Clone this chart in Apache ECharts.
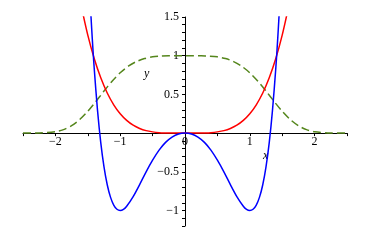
<!DOCTYPE html>
<html><head><meta charset="utf-8">
<script src="https://cdn.jsdelivr.net/npm/echarts@6/dist/echarts.min.js"></script>
<style>html,body{margin:0;padding:0;background:#fff}#c{width:373px;height:244px}</style>
</head><body><div id="c"></div>
<script>
// Green dashed curve
const greenX = [-2.5,-2.25,-2,-1.875,-1.75,-1.625,-1.5,-1.375,-1.25,-1.125,-1,-0.875,-0.75,-0.625,-0.5,-0.375,-0.25,-0.125,0,0.125,0.25,0.375,0.5,0.625,0.75,0.875,1,1.125,1.25,1.375,1.5,1.625,1.75,1.875,2,2.25,2.5];
const greenY = [0,0.002,0.018,0.045,0.096,0.175,0.282,0.409,0.543,0.670,0.779,0.864,0.924,0.963,0.985,0.995,0.999,1,1,1,0.999,0.995,0.985,0.963,0.924,0.864,0.779,0.670,0.543,0.409,0.282,0.175,0.096,0.045,0.018,0.002,0];
// Red curve
const redX = [-1.6,-1.5,-1.4,-1.3,-1.2,-1.1,-1,-0.9,-0.8,-0.7,-0.6,-0.5,-0.4,-0.3,-0.2,-0.1,0,0.1,0.2,0.3,0.4,0.5,0.6,0.7,0.8,0.9,1,1.1,1.2,1.3,1.4,1.5,1.6];
const redY = [1.638,1.266,0.960,0.714,0.518,0.366,0.25,0.164,0.102,0.060,0.032,0.016,0.006,0.002,0,0,0,0,0,0.002,0.006,0.016,0.032,0.060,0.102,0.164,0.25,0.366,0.518,0.714,0.960,1.266,1.638];
// Blue curve
const blueX = [-1.46,-1.44,-1.42,-1.4,-1.35,-1.3,-1.25,-1.2,-1.15,-1.1,-1.05,-1,-0.95,-0.9,-0.8,-0.7,-0.6,-0.5,-0.4,-0.3,-0.2,-0.1,0,0.1,0.2,0.3,0.4,0.5,0.6,0.7,0.8,0.9,0.95,1,1.05,1.1,1.15,1.2,1.25,1.3,1.35,1.4,1.42,1.44,1.46];
const blueY = [1.646,1.348,1.074,0.825,0.293,-0.122,-0.436,-0.667,-0.827,-0.929,-0.984,-1,-0.986,-0.945,-0.82,-0.665,-0.5,-0.35,-0.22,-0.12,-0.052,-0.012,0,-0.012,-0.052,-0.12,-0.22,-0.35,-0.5,-0.665,-0.82,-0.945,-0.986,-1,-0.984,-0.929,-0.827,-0.667,-0.436,-0.122,0.293,0.825,1.074,1.348,1.646];
// Tick labels
const xLabelValues = [-2,-1,0,1,2];
const xLabelTexts = ['\u22122','\u22121','0','1','2'];
const yLabelValues = [-1,-0.5,0.5,1,1.5];
const yLabelTexts = ['\u22121','\u22120.5','0.5','1','1.5'];

function pairs(xs, ys){ return xs.map((x,i)=>[x, ys[i]]); }
function lookup(vals, texts, v){
  for (let i=0;i<vals.length;i++){ if (Math.abs(vals[i]-v)<1e-6) return texts[i]; }
  return '';
}
const font = 'Liberation Serif';
const W = 373, H = 244;
const G = {left:23, right:26, top:17, bottom:18};
const XMIN=-2.5, XMAX=2.5, YMIN=-1.2, YMAX=1.5;
const gw = W - G.left - G.right, gh = H - G.top - G.bottom;
// shift axes so they cross at the origin
const xAxisOffset = -gh * (0 - YMIN) / (YMAX - YMIN);
const yAxisOffset = -gw * (0 - XMIN) / (XMAX - XMIN);
const chart = echarts.init(document.getElementById('c'), null, {renderer:'canvas'});
chart.setOption({
  animation:false,
  backgroundColor:'#fff',
  grid:{left:G.left, right:G.right, top:G.top, bottom:G.bottom, containLabel:false},
  xAxis:{type:'value', min:XMIN, max:XMAX, interval:0.5, position:'bottom', offset:xAxisOffset,
    axisLine:{onZero:false, lineStyle:{color:'#000', width:1}},
    axisTick:{length:3, lineStyle:{color:'#000'}},
    axisLabel:{margin:3, color:'#000', fontFamily:font, fontSize:12,
      formatter:v=>lookup(xLabelValues,xLabelTexts,v)},
    splitLine:{show:false}},
  yAxis:{type:'value', min:YMIN, max:YMAX, interval:0.1, position:'left', offset:yAxisOffset,
    axisLine:{onZero:false, lineStyle:{color:'#000', width:1}},
    axisTick:{length:3, lineStyle:{color:'#000'}},
    axisLabel:{margin:6, color:'#000', fontFamily:font, fontSize:12,
      formatter:v=>lookup(yLabelValues,yLabelTexts,v)},
    splitLine:{show:false}},
  graphic:[
    {type:'text', left:144, top:68, style:{text:'y', font:'italic 12px "Liberation Serif"', fill:'#000'}},
    {type:'text', left:263, top:150, style:{text:'x', font:'italic 12px "Liberation Serif"', fill:'#000'}}
  ],
  series:[
    {type:'line', data:pairs(greenX,greenY), showSymbol:false, smooth:0.3, clip:true,
      lineStyle:{color:'#55861c', width:1.5, type:[8,4]}, z:2},
    {type:'line', data:pairs(redX,redY), showSymbol:false, smooth:0.3, clip:true,
      lineStyle:{color:'#ff0000', width:1.5}, z:3},
    {type:'line', data:pairs(blueX,blueY), showSymbol:false, smooth:0.3, clip:true,
      lineStyle:{color:'#0000ff', width:1.5}, z:4}
  ]
});
</script></body></html>
